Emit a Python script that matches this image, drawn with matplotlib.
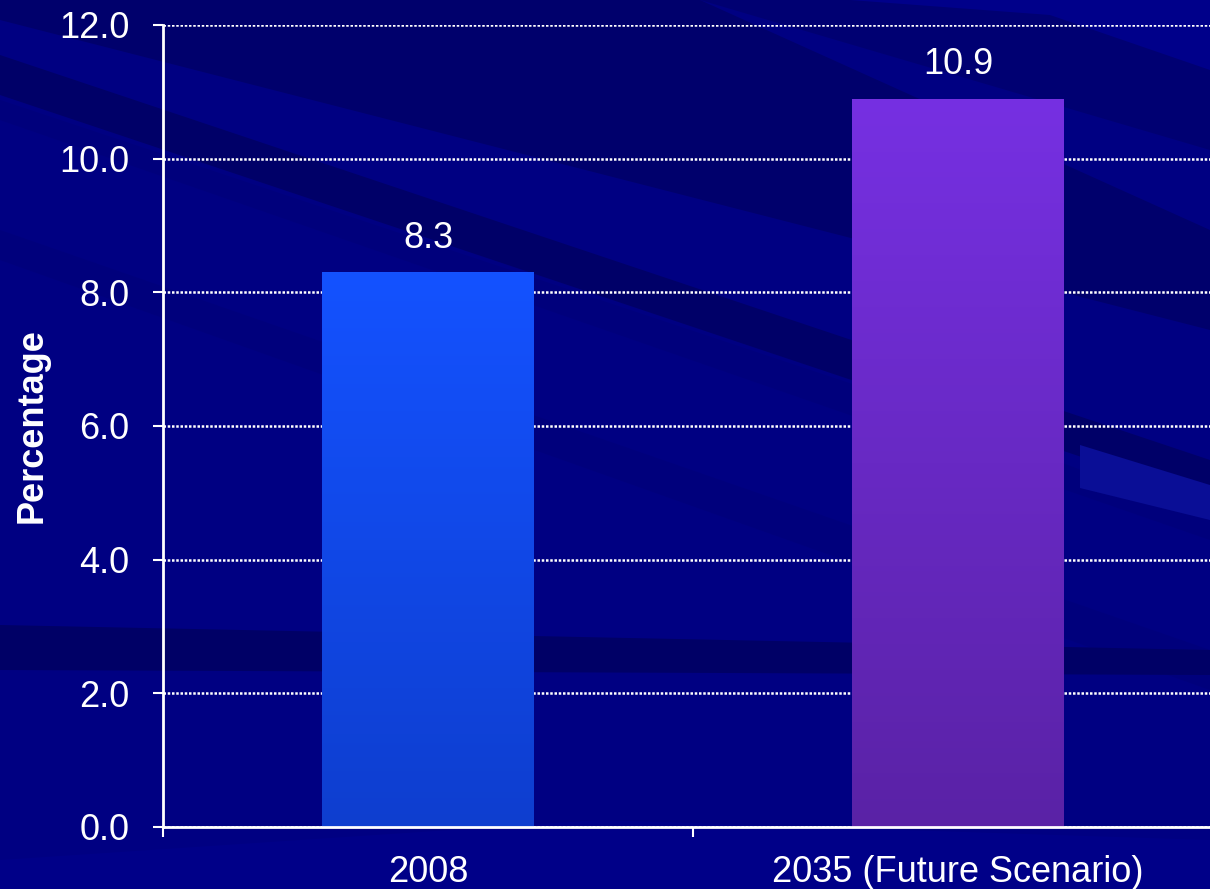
import numpy as np
import matplotlib
matplotlib.use("Agg")
import matplotlib.pyplot as plt
from matplotlib.colors import LinearSegmentedColormap

categories = ["2008", "2035 (Future Scenario)"]
values = [8.3, 10.9]
bar_top_colors = ["#1452FF", "#7630E2"]
bar_bottom_colors = ["#0E3ECF", "#5A22A6"]
yticks = [0.0, 2.0, 4.0, 6.0, 8.0, 10.0, 12.0]
ylabel = "Percentage"

plt.rcParams["font.family"] = ["Liberation Sans", "DejaVu Sans"]

W, H = 1210, 889
fig = plt.figure(figsize=(W / 100, H / 100), dpi=100)
fig.patch.set_facecolor("#000082")

# backdrop: navy slide with soft diagonal streaks (pixel coordinates)
bg = fig.add_axes([0, 0, 1, 1])
bg.set_xlim(0, W)
bg.set_ylim(H, 0)
bg.axis("off")
bg.set_facecolor("#000082")
streaks = [
    ([(0, 0), (1210, 0), (1210, 150), (700, 0)], "#000072"),
    ([(0, 0), (700, 0), (1210, 230), (1210, 330), (0, 20)], "#00006C"),
    ([(0, 55), (1210, 460), (1210, 500), (0, 95)], "#000068"),
    ([(0, 100), (900, 400), (1210, 520), (1210, 540), (0, 120)], "#00007C"),
    ([(0, 230), (1210, 650), (1210, 690), (0, 260)], "#00007C"),
    ([(0, 625), (1210, 650), (1210, 675), (0, 670)], "#000066"),
    ([(0, 860), (600, 820), (1210, 840), (1210, 889), (0, 889)], "#000088"),
    ([(1080, 445), (1210, 485), (1210, 520), (1080, 488)], "#0A0E96"),
    ([(850, 0), (1210, 0), (1210, 70), (1050, 15)], "#00008A"),
]
for pts, col in streaks:
    xs, ys = zip(*pts)
    bg.fill(xs, ys, color=col, lw=0, zorder=0)

ax = fig.add_axes([163 / W, 1 - 827 / H, 1060 / W, 802 / H])
ax.set_facecolor("none")

x = np.arange(len(categories))
bars = ax.bar(x, values, width=0.4, color="none", zorder=3)

# vertical gradient fill for each bar, clipped to the bar rectangle
for rect, top, bottom in zip(bars, bar_top_colors, bar_bottom_colors):
    cmap = LinearSegmentedColormap.from_list("g", [bottom, top])
    x0, w, h = rect.get_x(), rect.get_width(), rect.get_height()
    grad = np.linspace(0, 1, 256).reshape(-1, 1)
    im = ax.imshow(grad, cmap=cmap, origin="lower", aspect="auto",
                   extent=[x0, x0 + w, 0, h], zorder=3)
    im.set_clip_path(rect)

for xi, v in zip(x, values):
    ax.annotate(f"{v:.1f}", (xi, v), xytext=(0, 12), textcoords="offset points",
                ha="center", va="bottom", color="white", fontsize=26)

ax.set_xlim(-0.5, 1.5)
ax.set_ylim(0, 12)
ax.set_yticks(yticks)
ax.set_yticklabels([f"{t:.1f}" for t in yticks])
ax.yaxis.grid(True, color="white", linestyle=(0, (1, 0.7)), linewidth=1.8, zorder=1)
ax.set_axisbelow(True)

# category boundaries carry the tick marks, labels sit on the bar centres
ax.set_xticks([-0.5, 0.5, 1.5])
ax.set_xticklabels([])
ax.set_xticks(x, minor=True)
ax.set_xticklabels(categories, minor=True)
ax.tick_params(axis="x", which="minor", length=0, pad=20)
ax.tick_params(axis="x", which="major", length=7, width=1.5, color="white")
ax.tick_params(axis="y", length=7, width=1.5, color="white", pad=17)
ax.tick_params(axis="both", which="both", labelcolor="white", labelsize=26)

for side in ["top", "right"]:
    ax.spines[side].set_visible(False)
for side in ["left", "bottom"]:
    ax.spines[side].set_color("white")
    ax.spines[side].set_linewidth(2)
    ax.spines[side].set_zorder(4)

ax.set_ylabel(ylabel, color="white", fontsize=26, fontweight="bold", labelpad=7)

fig.savefig("out.png", dpi=100, facecolor=fig.get_facecolor())
